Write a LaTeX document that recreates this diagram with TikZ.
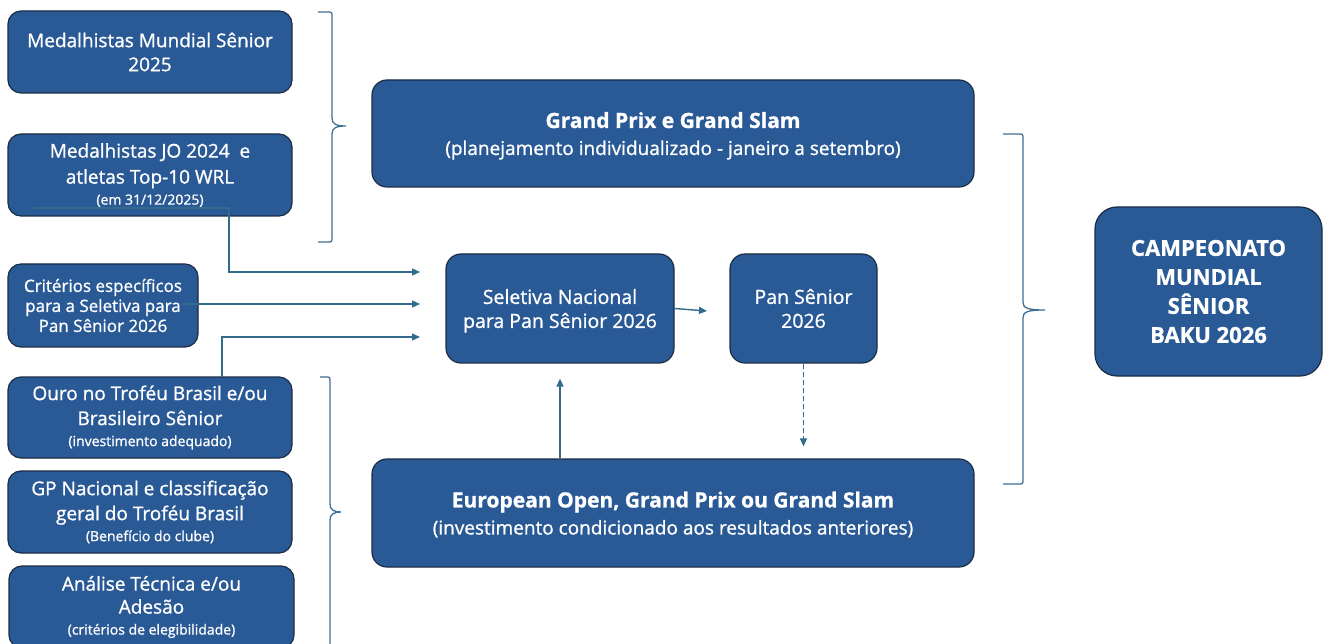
\documentclass[tikz,border=0pt]{standalone}
\usepackage{fontspec}
\setmainfont{Open Sans}[FakeBold=1]
\usetikzlibrary{arrows.meta,calc}
\definecolor{boxblue}{HTML}{2A5A96}
\definecolor{boxedge}{HTML}{1B2D45}
\definecolor{linkc}{HTML}{336B8C}
\definecolor{bracec}{HTML}{3F6F95}
\newcommand\subtxt[1]{{\fontsize{14}{16}\selectfont #1}}
\newcommand\curlybrace[6]{%
  \draw[bracepath] (#1,#3) -- (#2-5,#3) .. controls (#2,#3) .. (#2,#3+5)
    -- (#2,#5-8) .. controls (#2,#5-2) and (#2+4,#5) .. (#6,#5)
    .. controls (#2+4,#5) and (#2,#5+2) .. (#2,#5+8)
    -- (#2,#4-5) .. controls (#2,#4) .. (#2-5,#4) -- (#1,#4);}
\tikzset{
  card/.style={draw=boxedge, line width=1.2pt, fill=boxblue, rounded corners=13pt,
    text=white, align=center, inner sep=0pt},
  link/.style={draw=linkc, line width=1.4pt, -{Triangle[length=8pt,width=7pt]}},
  bracepath/.style={draw=bracec, line width=1.3pt},
  mainfont/.style={font=\fontsize{19}{25}\selectfont},
  bigfont/.style={font=\fontsize{19}{27}\selectfont},
}
\begin{document}
\begin{tikzpicture}[x=1pt,y=-1pt]
\clip (0,0) rectangle (1323,644);
\fill[white] (0,0) rectangle (1323,644);

% left column
\node[card, font=\fontsize{19}{24}\selectfont, minimum width=284pt, minimum height=82pt] (b1) at (150,52)
  {Medalhistas Mundial Sênior\\2025};
\node[card, font=\fontsize{19}{26}\selectfont, minimum width=284pt, minimum height=82pt] (b2) at (150,175)
  {Medalhistas JO 2024\ \ e\\atletas Top-10 WRL\\[-5pt]\subtxt{(em 31/12/2025)}};
\node[card, font=\fontsize{17}{20}\selectfont, minimum width=190pt, minimum height=83pt] (b3) at (103,305.5)
  {Critérios específicos\\para a Seletiva para\\Pan Sênior 2026};
\node[card, mainfont, minimum width=284pt, minimum height=81pt] (b4) at (150,417.5)
  {Ouro no Troféu Brasil e/ou\\Brasileiro Sênior\\[-4pt]\subtxt{(investimento adequado)}};
\node[card, mainfont, minimum width=284pt, minimum height=82pt] (b5) at (150,512)
  {GP Nacional e classificação\\geral do Troféu Brasil\\[-4pt]\subtxt{(Benefício do clube)}};
\node[card, font=\fontsize{19}{23}\selectfont, minimum width=285pt, minimum height=82pt] (b6) at (151.5,607)
  {Análise Técnica e/ou\\Adesão\\[-2pt]\subtxt{(critérios de elegibilidade)}};

% centre
\node[card, bigfont, text depth=0pt, minimum width=602pt, minimum height=107pt, rounded corners=15pt] (gp) at (673,133.5)
  {{\bfseries\fontsize{21}{27}\selectfont Grand Prix e Grand Slam}\\
   (planejamento individualizado - janeiro a setembro)};
\node[card, font=\fontsize{19.5}{24}\selectfont, text depth=0pt, minimum width=228pt, minimum height=109pt, rounded corners=15pt] (sel) at (560,308.5)
  {Seletiva Nacional\\para Pan Sênior 2026};
\node[card, font=\fontsize{19.5}{24}\selectfont, minimum width=147pt, minimum height=109pt, rounded corners=15pt] (pan) at (803.5,308.5)
  {Pan Sênior\\2026};
\node[card, bigfont, text depth=0pt, minimum width=602pt, minimum height=108pt, rounded corners=15pt] (eu) at (673,513)
  {{\bfseries\fontsize{21}{27}\selectfont European Open, Grand Prix ou Grand Slam}\\
   (investimento condicionado aos resultados anteriores)};

% right
\node[card, font=\bfseries\fontsize{22}{29}\selectfont, minimum width=227pt, minimum height=169pt, rounded corners=22pt] (camp) at (1208.5,291.5)
  {CAMPEONATO\\MUNDIAL\\SÊNIOR\\BAKU 2026};

% braces
\curlybrace{318}{332}{12}{242}{126}{346}
\curlybrace{320}{330}{377}{647}{512}{341}
\curlybrace{1003}{1023}{134}{484}{310}{1045}

% connectors
\coordinate (a1s) at (33,208);
\coordinate (a1e) at (420,272);
\coordinate (a2s) at (182,304);
\coordinate (a2e) at (420,304);
\coordinate (a3s) at (222,377);
\coordinate (a3e) at (420,337);
\coordinate (a4e) at (707,311);
\draw[link] (a1s) -- ++(196,0) |- (a1e);
\draw[link] (a2s) -- (a2e);
\draw[link] (a3s) |- (a3e);
\draw[link] (sel.east) -- (a4e);
\draw[link, shorten >=15pt] (sel.south |- eu.north) -- (sel.south);
\draw[link, dash pattern=on 5pt off 3pt, shorten >=12pt] (pan.south) -- (pan.south |- eu.north);
\end{tikzpicture}
\end{document}
